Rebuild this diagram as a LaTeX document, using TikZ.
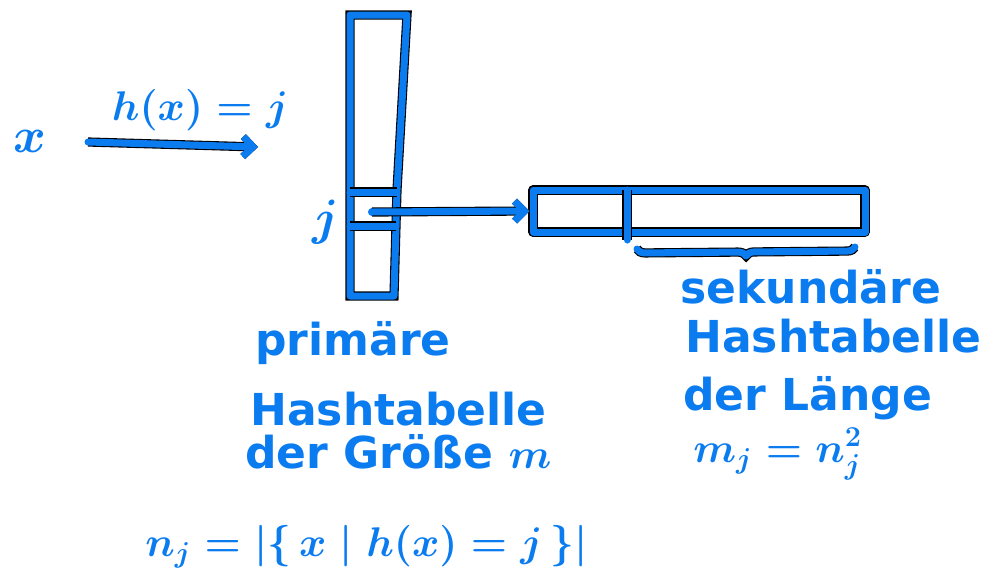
\documentclass[tikz,border=0pt]{standalone}
\usepackage{fontspec}
\setmainfont{DejaVu Sans}
\usetikzlibrary{arrows.meta,decorations.pathreplacing}
\definecolor{inkblue}{HTML}{0A7CF0}
\tikzset{
  ink/.style={draw=inkblue, line width=3.5pt, line cap=round, line join=round,
    preaction={draw=black, line width=4.6pt}},
  hand/.style={text=inkblue, font=\fontsize{22}{26}\selectfont\bfseries\boldmath, inner sep=0pt},
  tip/.style={-{Straight Barb[length=5pt,width=10pt,line width=3.5pt]}},
}
\begin{document}
\begin{tikzpicture}[x=0.5pt,y=-0.5pt]
\useasboundingbox (0,0) rectangle (981,584);

% Primaertabelle
\coordinate (p1) at (350,15);
\coordinate (p2) at (407,15);
\coordinate (p3) at (394,296);
\coordinate (p4) at (350,296);
\draw[ink] (p1) -- (p2) -- (397,190) -- (p3) -- (p4) -- cycle;
\draw[ink] (350,192) -- (397,192);
\draw[ink] (350,226) -- (396,226);
\coordinate (slot) at (372,212);
\fill[inkblue] (slot) circle (4);

% Sekundaertabelle
\node[ink, minimum width=166pt, minimum height=21pt, inner sep=0pt] (sec) at (699,211) {};
\draw[ink] (627,190) -- (627,240);
\coordinate (b1) at (637,249);
\coordinate (b2) at (855,247);
\draw[ink, decorate, decoration={brace, mirror, amplitude=4pt}] (b1) -- (b2);

% Hashfunktion
\node[hand, anchor=base, font=\fontsize{30}{34}\selectfont\boldmath] (x) at (30,152) {$x$};
\coordinate (hs) at (88,142);
\coordinate (he) at (258,147);
\draw[ink, tip] (hs) -- (he);
\node[hand, anchor=base, font=\fontsize{20}{24}\selectfont\boldmath] (hx) at (200,120) {$h(x)=j$};
\node[hand, anchor=base, font=\fontsize{28}{32}\selectfont\boldmath] (j) at (326,234) {$j$};
\draw[ink, tip] (slot) -- (sec.west);

% Beschriftungen
\node[hand, anchor=base west] (pr1) at (255,355) {primäre};
\node[hand, anchor=base west] (pr2) at (250,425) {Hashtabelle};
\node[hand, anchor=base west] (pr3) at (245,468) {der Größe $m$};

\node[hand, anchor=base west] (se1) at (680,303) {sekundäre};
\node[hand, anchor=base west] (se2) at (685,352) {Hashtabelle};
\node[hand, anchor=base west] (se3) at (683,410) {der Länge};
\node[hand, anchor=base west] (se4) at (693,462) {$m_j=n_j^2$};

\node[hand, anchor=base west] (nj) at (145,556) {$n_j=\left|\{\,x \mid h(x)=j\,\}\right|$};
\end{tikzpicture}
\end{document}
